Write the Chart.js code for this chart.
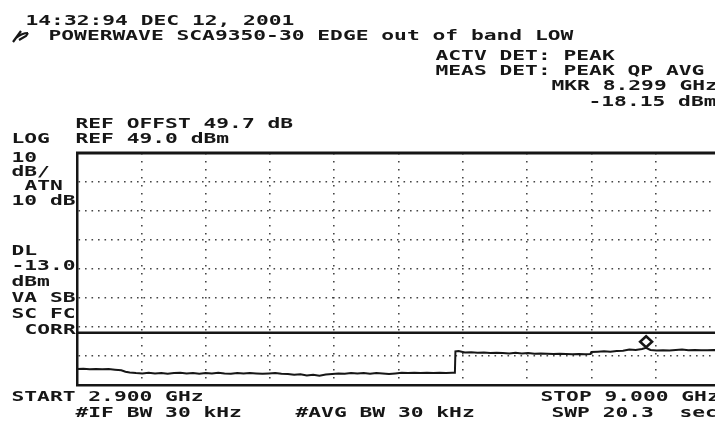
<!DOCTYPE html>
<html>
<head>
<meta charset="utf-8">
<script src="https://cdn.jsdelivr.net/npm/chart.js@4.4.1/dist/chart.umd.min.js"></script>
<style>
  html, body { margin: 0; padding: 0; background: #fff; overflow: hidden; }
  #wrap { width: 730px; height: 422px; position: relative; }
</style>
</head>
<body>
<div id="wrap"><canvas id="c"></canvas></div>
<script>
// ---------------- data ----------------
const freqGHz = [2.90, 2.96, 3.02, 3.08, 3.14, 3.20, 3.26, 3.32, 3.36, 3.40, 3.46, 3.52, 3.58, 3.64, 3.70, 3.76, 3.82, 3.88, 3.94, 4.00,
  4.06, 4.12, 4.18, 4.24, 4.30, 4.36, 4.42, 4.48, 4.54, 4.60, 4.66, 4.72, 4.78, 4.84, 4.90, 4.96, 5.02, 5.08, 5.14, 5.20,
  5.26, 5.32, 5.38, 5.44, 5.50, 5.56, 5.62, 5.68, 5.74, 5.80, 5.86, 5.92, 5.98, 6.04, 6.10, 6.16, 6.22, 6.28, 6.34, 6.40,
  6.46, 6.485, 6.49, 6.52, 6.58, 6.64, 6.70, 6.76, 6.82, 6.88, 6.94, 7.00, 7.06, 7.12, 7.18, 7.24, 7.30, 7.36, 7.42, 7.48,
  7.54, 7.60, 7.66, 7.72, 7.77, 7.78, 7.84, 7.90, 7.96, 8.02, 8.08, 8.14, 8.20, 8.26, 8.299, 8.34, 8.40, 8.46, 8.52, 8.58,
  8.64, 8.70, 8.76, 8.82, 8.88, 8.94, 9.00];
const levelDBm = [-25.5, -25.4, -25.6, -25.5, -25.6, -25.5, -25.7, -25.9, -26.4, -26.7, -26.9, -27.0, -26.8, -27.0, -26.9, -27.1, -26.9, -26.8, -27.0, -26.9,
  -27.1, -26.9, -27.0, -26.8, -27.0, -27.1, -26.9, -27.0, -26.9, -27.0, -27.1, -27.0, -26.9, -27.1, -27.2, -27.5, -27.3, -27.7, -27.5, -27.8,
  -27.4, -27.2, -27.0, -27.1, -26.9, -27.0, -26.9, -27.1, -26.9, -27.0, -27.2, -27.0, -26.8, -26.9, -26.8, -26.9, -26.8, -26.9, -26.8, -26.9,
  -26.8, -26.8, -19.4, -19.3, -19.8, -19.7, -19.9, -19.8, -20.0, -19.9, -20.0, -20.1, -19.9, -20.1, -20.0, -20.2, -20.1, -20.2, -20.3, -20.2,
  -20.3, -20.4, -20.3, -20.4, -20.3, -19.6, -19.5, -19.4, -19.5, -19.3, -19.2, -18.8, -18.9, -18.6, -18.15, -18.9, -19.1, -19.0, -19.1, -18.9,
  -18.8, -19.0, -18.9, -19.0, -19.0, -18.9, -19.0];
const markerFreq = [8.299];
const markerLevel = [-18.15];
const displayLine = [-13.0];
const xTicks = [2.90, 3.51, 4.12, 4.73, 5.34, 5.95, 6.56, 7.17, 7.78, 8.39, 9.00];
const yTicks = [49, 39, 29, 19, 9, -1, -11, -21, -31];

// ---------------- annotation texts (text, x, baseline y) ----------------
const labels = [
  ["14:32:94 DEC 12, 2001", 27, 25],
  ["POWERWAVE SCA9350-30 EDGE out of band LOW", 50, 40],
  ["ACTV DET: PEAK", 437, 60],
  ["MEAS DET: PEAK QP AVG", 437, 75],
  ["MKR 8.299 GHz", 553, 90],
  ["-18.15 dBm", 590, 106],
  ["REF OFFST 49.7 dB", 77, 128],
  ["LOG", 13, 143],
  ["REF 49.0 dBm", 77, 143],
  ["10", 13, 162],
  ["dB/", 13, 176],
  ["ATN", 26, 190],
  ["10 dB", 13, 205],
  ["DL", 13, 255],
  ["-13.0", 13, 270],
  ["dBm", 13, 286],
  ["VA SB", 13, 302],
  ["SC FC", 13, 318],
  ["CORR", 26, 334],
  ["START 2.900 GHz", 13, 401],
  ["#IF BW 30 kHz", 77, 417],
  ["#AVG BW 30 kHz", 297, 417],
  ["STOP 9.000 GHz", 542, 401],
  ["SWP 20.3  sec", 553, 417]
];
const PITCH = 12.8;
const INK = '#161616';

const tracePts = freqGHz.map((f, i) => ({x: f, y: levelDBm[i]}));
const markerPts = markerFreq.map((f, i) => ({x: f, y: markerLevel[i]}));

const framePlugin = {
  id: 'frame',
  afterDatasetsDraw(chart) {
    const {ctx, chartArea: a, scales: {x, y}} = chart;
    ctx.save();
    ctx.strokeStyle = INK;
    ctx.lineCap = 'butt';
    // top frame line
    ctx.lineWidth = 3;
    ctx.beginPath(); ctx.moveTo(a.left - 1, a.top); ctx.lineTo(a.right, a.top); ctx.stroke();
    // display line
    ctx.lineWidth = 2.5;
    const dy = y.getPixelForValue(displayLine[0]);
    ctx.beginPath(); ctx.moveTo(a.left, dy); ctx.lineTo(a.right, dy); ctx.stroke();
    // marker diamond (sits on top of the marker point)
    markerPts.forEach(p => {
      const px = x.getPixelForValue(p.x), py = y.getPixelForValue(p.y) - 6;
      ctx.lineWidth = 2.5;
      ctx.fillStyle = '#fff';
      ctx.beginPath();
      ctx.moveTo(px, py - 5.5); ctx.lineTo(px + 6, py); ctx.lineTo(px, py + 5.5); ctx.lineTo(px - 6, py); ctx.closePath();
      ctx.fill(); ctx.stroke();
    });
    ctx.restore();
  },
  afterDraw(chart) {
    const ctx = chart.ctx;
    ctx.save();
    ctx.fillStyle = INK;
    ctx.font = 'bold 14px "DejaVu Sans Mono"';
    ctx.textBaseline = 'alphabetic';
    const adv = ctx.measureText('0').width;
    const sx = PITCH / adv;
    labels.forEach(([t, lx, ly]) => {
      ctx.save();
      ctx.translate(lx - 1.5, ly);
      ctx.scale(sx, 1);
      ctx.fillText(t, 0, 0);
      ctx.restore();
    });
    // small logo glyph before the title
    ctx.strokeStyle = INK;
    ctx.lineWidth = 2.2;
    ctx.beginPath();
    ctx.moveTo(13, 42); ctx.lineTo(21, 31);
    ctx.moveTo(16, 38); ctx.quadraticCurveTo(22, 33, 28, 33);
    ctx.moveTo(19, 40); ctx.lineTo(26, 36); ctx.lineTo(28, 33);
    ctx.stroke();
    ctx.restore();
  }
};

new Chart(document.getElementById('c'), {
  type: 'line',
  data: {
    datasets: [
      { label: 'trace', data: tracePts, borderColor: INK, borderWidth: 2, pointRadius: 0, tension: 0, fill: false },
      { label: 'marker', data: markerPts, showLine: false, pointRadius: 0, borderColor: INK }
    ]
  },
  options: {
    responsive: true,
    maintainAspectRatio: false,
    animation: false,
    devicePixelRatio: 1,
    layout: { padding: { left: 77, top: 153, right: 10, bottom: 37 } },
    plugins: { legend: { display: false }, tooltip: { enabled: false }, title: { display: false } },
    scales: {
      x: {
        type: 'linear', min: 2.9, max: 9.0,
        afterBuildTicks: s => { s.ticks = xTicks.map(v => ({value: v})); },
        afterFit: s => { s.height = 0; },
        ticks: { display: false },
        grid: { color: 'rgba(50,50,50,0.9)', lineWidth: 1.6, drawTicks: false },
        border: { display: true, color: INK, width: 2.5, dash: [1.6, 6.4] }
      },
      y: {
        type: 'linear', min: -31, max: 49,
        afterBuildTicks: s => { s.ticks = yTicks.map(v => ({value: v})); },
        afterFit: s => { s.width = 0; },
        ticks: { display: false },
        grid: { color: 'rgba(50,50,50,0.9)', lineWidth: 1.6, drawTicks: false },
        border: { display: true, color: INK, width: 2.5, dash: [1.6, 4.9] }
      }
    }
  },
  plugins: [framePlugin]
});
</script>
</body>
</html>
